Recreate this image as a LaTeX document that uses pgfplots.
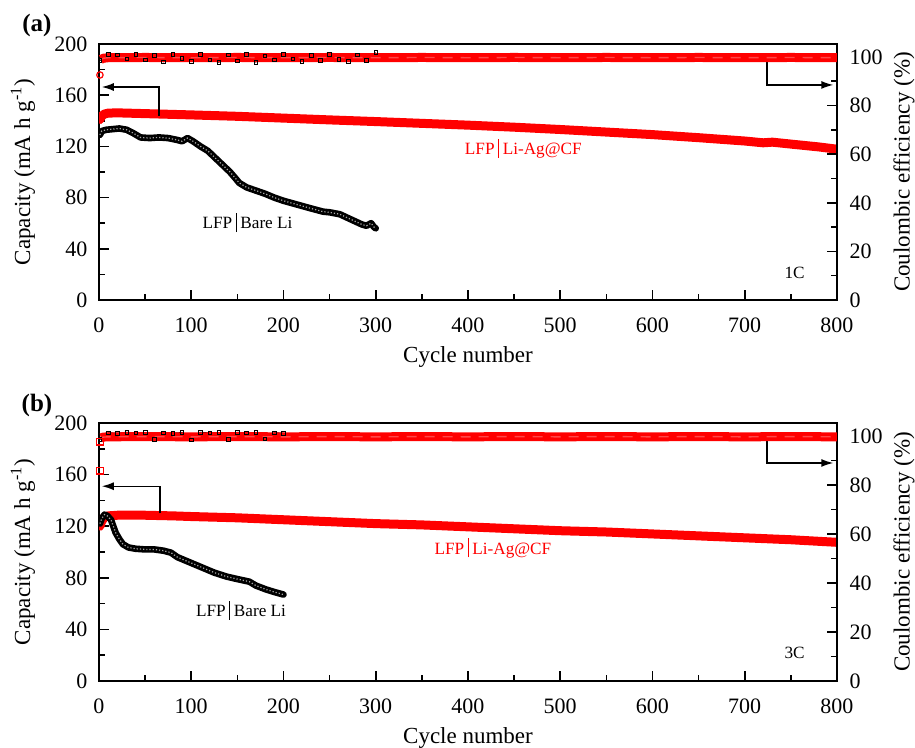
\documentclass[border=0pt]{standalone}
\usepackage{fontspec}
\setmainfont{Liberation Serif}
\usepackage{pgfplots}
\pgfplotsset{compat=1.18}
\usepackage{pgfplotstable}
\usetikzlibrary{arrows.meta}

% ---------- panel (a) data ----------
\pgfplotstableread{
x y
1 141
3 143.8
6 145.3
10 146
20 146.2
50 145.6
100 144.6
150 143.5
200 142.1
250 140.7
300 139.4
350 138
400 136.6
450 135
500 133.2
550 131.2
600 129.2
650 126.8
700 124.2
720 122.8
730 123.3
750 121.8
780 119.6
800 117.8
}\capRedA
\pgfplotstableread{
x y
1 129
3 132
8 133
15 133.5
22 134
30 133
38 130
45 127
55 126.5
65 127
75 126.5
85 125
90 124
96 126.5
102 124
110 120
118 116.5
126 111
134 105.5
142 100
148 95
152 91.5
160 88
170 85.5
180 83
190 80
200 77.5
210 75.5
220 73.5
230 71.5
243 69
250 68.5
261 67
270 64
279 61
285 59
290 58
295 60
298 57
300 56
}\capBlackA
\pgfplotstableread{
x y
2 99.0
5 99.5
10 99.7
50 99.8
100 99.7
150 99.8
200 99.7
250 99.8
300 99.7
350 99.8
400 99.7
450 99.8
500 99.7
550 99.8
600 99.7
650 99.8
700 99.7
750 99.8
800 99.7
}\ceRedA
\pgfplotstableread{
x y
1 98.5
10 101.1
20 100.9
30 99.2
40 101.2
50 98.8
60 100.6
70 98.0
80 101.0
90 99.5
100 98.2
110 101.1
120 98.9
130 97.8
140 100.8
150 98.4
160 101.1
170 97.9
180 100.4
190 98.9
200 101.2
210 99.3
220 98.2
230 100.7
240 98.6
250 101.0
260 99.1
270 98.3
280 100.9
290 98.7
300 101.8
}\ceBlackA

% ---------- panel (b) data ----------
\pgfplotstableread{
x y
1 120
3 124
6 127
10 128
20 128.5
50 128.5
80 128
100 127.5
150 126.5
200 125
250 123.5
300 122
350 121
400 119.5
450 118
500 116.5
550 115.5
600 114
650 112.5
700 111
750 109.5
800 107.5
}\capRedB
\pgfplotstableread{
x y
1 122
3 126
6 129
9 128
13 125
18 115
22 110
26 106
32 103.5
40 102.5
50 102
60 102
70 101
78 99.5
85 96
95 93
105 90
115 87
125 84
138 81
150 79
163 77
170 74
181 71
190 69
200 67
}\capBlackB
\pgfplotstableread{
x y
2 99.3
5 99.6
10 99.7
50 99.8
100 99.7
150 99.8
200 99.7
250 99.8
300 99.7
350 99.8
400 99.7
450 99.8
500 99.7
550 99.8
600 99.7
650 99.8
700 99.7
750 99.8
800 99.7
}\ceRedB
\pgfplotstableread{
x y
1 98.6
10 101.4
20 101.2
30 101.6
40 101.3
50 101.5
60 98.6
70 101.4
80 101.2
90 101.5
100 98.5
110 101.6
120 101.3
130 101.5
140 98.7
150 101.6
160 101.3
170 101.5
180 98.8
190 101.4
200 101.2
}\ceBlackB

\tikzset{
  arr/.style={black, line width=0.7pt, -{Latex[length=6pt,width=4pt]}},
  inlab/.style={font=\fontsize{8.6}{10}\selectfont},
  capred/.style={red, line width=4.5pt, line join=round, line cap=round},
  capblack/.style={black, line width=3.3pt, line join=round, line cap=round},
  capblacktex/.style={gray!70, line width=0.6pt, densely dotted},
  cered/.style={red, line width=4.5pt},
  ceredtex/.style={red!72!white, line width=0.7pt, dash pattern=on 5pt off 4pt},
  ceblack/.style={black, line width=0.4pt, mark=square, mark size=0.9pt, mark options={solid, line width=0.35pt}},
}

\pgfplotsset{
  base/.style={
    scale only axis, width=369pt,
    xmin=0, xmax=800,
    /pgf/number format/assume math mode=true,
    tick label style={font=\fontsize{11}{13}\selectfont},
    label style={font=\fontsize{11.5}{13}\selectfont},
    axis line style={line width=0.9pt},
    every tick/.style={black, line width=0.8pt},
    major tick length=5pt, minor tick length=3pt,
    tick align=inside,
  },
  leftax/.style={
    base,
    ymin=0, ymax=200,
    ytick={0,40,...,200}, minor ytick={20,60,...,180},
    xtick={0,100,...,800}, minor xtick={50,150,...,750},
    xtick pos=bottom, ytick pos=left,
    xticklabel style={yshift=-5.5pt},
    yticklabel style={xshift=-2.3pt},
    xlabel={Cycle number},
    ylabel={Capacity (mA h g\textsuperscript{-1})},
    ylabel style={at={(axis description cs:-0.103,0.5)}, anchor=center},
  },
  rightax/.style={
    base,
    ymin=0, ymax=105.35,
    hide x axis, axis y line*=right,
    ytick={0,20,...,100}, minor ytick={10,30,...,90},
    yticklabel style={xshift=2.8pt},
    ylabel={Coulombic efficiency (\%)},
    ylabel style={at={(axis description cs:1.0908,0.5)}, anchor=center},
  },
}

\newcommand{\sep}{\hspace{1.8pt}\rule[-1.6pt]{0.5pt}{9.5pt}\hspace{1.8pt}}

\begin{document}
\begin{tikzpicture}
\useasboundingbox (-49.5pt,-224pt) rectangle (408pt,150pt);

% ================= (a) =================
\begin{axis}[leftax, at={(0,0)}, anchor=south west, height=128pt,
  xlabel style={at={(axis description cs:0.5,-0.2227)}, anchor=center}]
  \addplot[capred] table {\capRedA};
  \addplot[capblack] table {\capBlackA};
  \addplot[capblacktex] table {\capBlackA};
  \draw[arr] (axis cs:65,144) -- (axis cs:65,166.4) -- (axis cs:3,166.4);
  \draw[arr] (axis cs:724,187.5) -- (axis cs:724,168) -- (axis cs:796,168);
  \node[inlab] at (axis cs:161,60.5) {LFP\sep Bare Li};
  \node[inlab, red] at (axis cs:460,118.5) {LFP\sep Li-Ag@CF};
  \node[inlab] at (axis cs:754,21) {1C};
\end{axis}
\begin{axis}[rightax, at={(0,0)}, anchor=south west, height=128pt]
  \addplot[ceblack] table {\ceBlackA};
  \addplot[cered] table {\ceRedA};
  \addplot[ceredtex] table {\ceRedA};
  \addplot[only marks, red, mark=o, mark size=1.6pt, mark options={line width=0.6pt}] coordinates {(1,92.6)};
\end{axis}
\node[font=\bfseries\fontsize{12.5}{14}\selectfont] at (-31pt,137.5pt) {(a)};

% ================= (b) =================
\begin{axis}[leftax, at={(0,-190.5pt)}, anchor=south west, height=129pt,
  xlabel style={at={(axis description cs:0.5,-0.221)}, anchor=center}]
  \addplot[capred] table {\capRedB};
  \addplot[capblack] table {\capBlackB};
  \addplot[capblacktex] table {\capBlackB};
  \draw[arr] (axis cs:66,130) -- (axis cs:66,151) -- (axis cs:3,151);
  \draw[arr] (axis cs:724,188.5) -- (axis cs:724,169) -- (axis cs:796,169);
  \node[inlab] at (axis cs:154,55) {LFP\sep Bare Li};
  \node[inlab, red] at (axis cs:427,103) {LFP\sep Li-Ag@CF};
  \node[inlab] at (axis cs:754,22) {3C};
\end{axis}
\begin{axis}[rightax, at={(0,-190.5pt)}, anchor=south west, height=129pt]
  \addplot[ceblack] table {\ceBlackB};
  \addplot[cered] table {\ceRedB};
  \addplot[ceredtex] table {\ceRedB};
  \addplot[only marks, red, mark=square, mark size=1.6pt, mark options={line width=0.6pt}] coordinates {(1,97.7) (1,85.8)};
\end{axis}
\node[font=\bfseries\fontsize{12.5}{14}\selectfont] at (-31pt,-52.5pt) {(b)};
\end{tikzpicture}
\end{document}
